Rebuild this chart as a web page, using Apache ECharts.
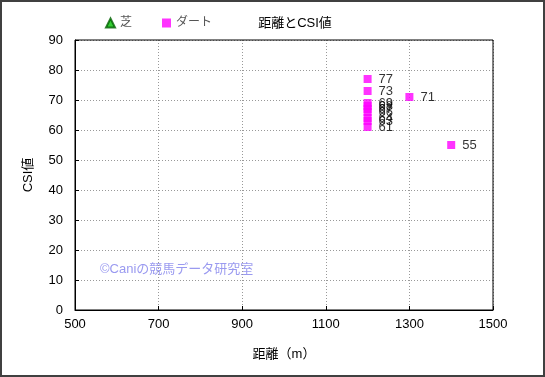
<!DOCTYPE html>
<html>
<head>
<meta charset="utf-8">
<script src="https://cdn.jsdelivr.net/npm/echarts@6/dist/echarts.min.js"></script>
<style>
  html, body { margin: 0; padding: 0; background: #fff; }
  #chart { width: 545px; height: 377px; }
</style>
</head>
<body>
<div id="chart"></div>
<script>
// data
const turfData = [];
const dirtDistance = [1200, 1200, 1200, 1200, 1200, 1200, 1200, 1200, 1200, 1300, 1400];
const dirtCsi = [77, 73, 69, 68, 67, 66, 64, 63, 61, 71, 55];
const xTicks = [500, 700, 900, 1100, 1300, 1500];

const font = '"Liberation Sans", "Noto Sans CJK JP", sans-serif';

let myChart = echarts.init(document.getElementById('chart'));

let option = {
    backgroundColor: '#fff',
    animation: false,
    textStyle: { fontFamily: font },
    title: {
        text: '距離とCSI値',
        left: 290,
        top: 12,
        textAlign: 'center',
        textStyle: { fontSize: 13, fontWeight: 'normal', color: '#000', fontFamily: font }
    },
    legend: {
        left: 100,
        top: 12,
        itemWidth: 9,
        itemHeight: 9,
        itemGap: 30,
        textStyle: { fontSize: 12, color: '#555', fontFamily: font },
        data: [
            { name: '芝', icon: 'triangle' },
            { name: 'ダート', icon: 'rect' }
        ]
    },
    grid: { left: 75, right: 52, top: 40, bottom: 67 },
    xAxis: {
        type: 'value',
        min: xTicks[0],
        max: xTicks[xTicks.length - 1],
        interval: 200,
        name: '距離（m）',
        nameLocation: 'middle',
        nameGap: 38,
        nameTextStyle: { fontSize: 13, color: '#000', fontFamily: font },
        axisLine: { show: true, lineStyle: { color: '#000', width: 1 } },
        axisTick: { show: true, inside: true, length: 4, lineStyle: { color: '#000' } },
        axisLabel: { fontSize: 13, color: '#000', margin: 8, formatter: v => String(v) },
        splitLine: { show: true, lineStyle: { color: '#999', type: [1, 2], width: 1 } }
    },
    yAxis: {
        type: 'value',
        min: 0,
        max: 90,
        interval: 10,
        name: 'CSI値',
        nameLocation: 'middle',
        nameGap: 40,
        nameRotate: 90,
        nameTextStyle: { fontSize: 13, color: '#000', fontFamily: font },
        axisLine: { show: true, lineStyle: { color: '#000', width: 1 } },
        axisTick: { show: true, inside: true, length: 4, lineStyle: { color: '#000' } },
        axisLabel: { fontSize: 13, color: '#000', margin: 12 },
        splitLine: { show: true, lineStyle: { color: '#999', type: [1, 2], width: 1 } }
    },
    graphic: [
        {
            type: 'rect',
            shape: { x: 1, y: 1, width: 543, height: 375 },
            style: { fill: 'none', stroke: '#404040', lineWidth: 2 },
            silent: true
        },
        {
            type: 'rect',
            shape: { x: 75, y: 40, width: 418, height: 270 },
            style: { fill: 'none', stroke: '#000', lineWidth: 1 },
            silent: true,
            z: 10
        },
        {
            type: 'text',
            left: 100,
            top: 263,
            style: { text: '©Caniの競馬データ研究室', fontSize: 13, fill: '#9a9af0', fontFamily: font },
            silent: true
        }
    ],
    series: [
        {
            name: '芝',
            type: 'scatter',
            symbol: 'triangle',
            symbolSize: 8,
            itemStyle: { color: '#00c000', borderColor: '#006000', borderWidth: 1 },
            data: turfData
        },
        {
            name: 'ダート',
            type: 'scatter',
            symbol: 'rect',
            symbolSize: 8,
            itemStyle: { color: '#ff00ff' },
            label: {
                show: true,
                position: 'right',
                distance: 7,
                fontSize: 13,
                color: '#000',
                formatter: p => p.value[1]
            },
            labelLayout: { hideOverlap: false },
            data: dirtDistance.map((d, i) => [d, dirtCsi[i]])
        }
    ]
};

myChart.setOption(option);
</script>
</body>
</html>
